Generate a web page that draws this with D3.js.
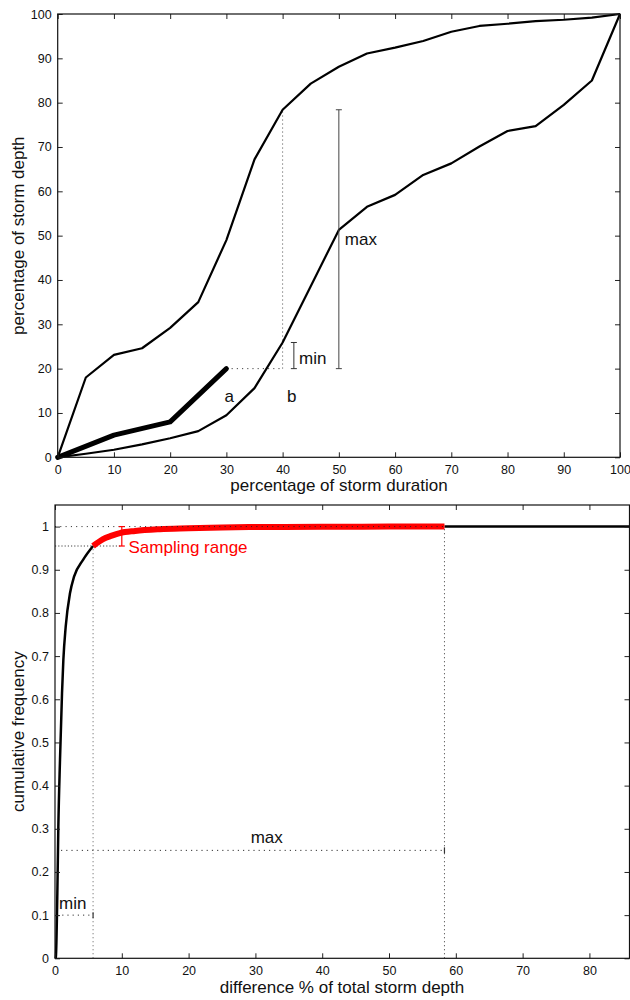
<!DOCTYPE html>
<html>
<head>
<meta charset="utf-8">
<script src="https://cdn.jsdelivr.net/npm/d3@7"></script>
<style>
  body { margin: 0; background: #fff; }
  svg { display: block; font-family: "Liberation Sans", Arial, Helvetica, sans-serif; }
</style>
</head>
<body>
<div id="chart"></div>
<script>
// top panel: mass curves (percentage of storm duration vs depth)
const durationPct = [0, 5, 10, 15, 20, 25, 30, 35, 40, 45, 50, 55, 60, 65, 70, 75, 80, 85, 90, 95, 100];
const upperDepth = [0, 18, 23.1, 24.6, 29.2, 35, 49, 67.2, 78.4, 84.3, 88.1, 91.1, 92.4, 93.9, 96, 97.3, 97.8, 98.4, 98.7, 99.2, 100];
const lowerDepth = [0, 0.8, 1.7, 2.9, 4.3, 5.9, 9.5, 15.6, 25.9, 38.6, 51.3, 56.5, 59.2, 63.7, 66.3, 70.1, 73.6, 74.7, 79.5, 85, 100];
const partialDur = [0, 10, 20, 30];
const partialDepth = [0, 5, 8, 20];
const topTicks = [0, 10, 20, 30, 40, 50, 60, 70, 80, 90, 100];

// bottom panel: cumulative frequency of the difference
const cdfDiff = [0.1, 0.15, 0.35, 0.5, 0.75, 1.05, 1.25, 1.6, 2.25, 2.85, 4.2, 5.7];
const cdfFreq = [0, 0.008, 0.15, 0.305, 0.46, 0.614, 0.691, 0.768, 0.846, 0.884, 0.923, 0.955];
const sampleDiff = [5.7, 6.5, 7.2, 8.5, 9.7, 12, 15.7, 20, 25, 30, 40, 50, 58.3];
const sampleFreq = [0.955, 0.964, 0.971, 0.979, 0.985, 0.99, 0.994, 0.996, 0.998, 0.999, 0.9995, 1, 1];
const tailDiff = [58.3, 86];
const tailFreq = [1, 1];
const bottomXTicks = [0, 10, 20, 30, 40, 50, 60, 70, 80];
const bottomYTicks = [0, 0.1, 0.2, 0.3, 0.4, 0.5, 0.6, 0.7, 0.8, 0.9, 1];

const width = 630, height = 1000;
const svg = d3.select('#chart').append('svg')
    .attr('width', width)
    .attr('height', height);

const dotH = '1.2,4';
const dotV = '1.2,2.8';

// draw a framed panel with inward ticks on all four sides
function drawFrame(x, y, xTicks, yTicks, yFmt) {
    const [x0, x1] = x.range();
    const [y0, y1] = y.range();
    const g = svg.append('g').attr('class', 'frame');

    const bottom = g.append('g')
        .attr('transform', `translate(0,${y0})`)
        .call(d3.axisBottom(x).tickValues(xTicks).tickSizeInner(-5).tickSizeOuter(0).tickPadding(8));
    const top = g.append('g')
        .attr('transform', `translate(0,${y1})`)
        .call(d3.axisTop(x).tickValues(xTicks).tickSizeInner(-5).tickSizeOuter(0).tickFormat(''));
    const left = g.append('g')
        .attr('transform', `translate(${x0},0)`)
        .call(d3.axisLeft(y).tickValues(yTicks).tickSizeInner(-5).tickSizeOuter(0).tickPadding(6).tickFormat(yFmt));
    const right = g.append('g')
        .attr('transform', `translate(${x1},0)`)
        .call(d3.axisRight(y).tickValues(yTicks).tickSizeInner(-5).tickSizeOuter(0).tickFormat(''));

    [bottom, top, left, right].forEach(a => {
        a.select('.domain').remove();
        a.selectAll('line').attr('stroke', '#222').attr('stroke-width', 1);
        a.selectAll('text').attr('font-size', '12.5px').attr('fill', '#111')
            .attr('font-family', '"Liberation Sans", Arial, sans-serif');
    });

    g.append('rect')
        .attr('x', x0).attr('y', y1)
        .attr('width', x1 - x0).attr('height', y0 - y1)
        .attr('fill', 'none')
        .attr('stroke', '#111')
        .attr('stroke-width', 1.2);
}

function seg(g, x1, y1, x2, y2, stroke, w, dash) {
    const l = g.append('line')
        .attr('x1', x1).attr('y1', y1)
        .attr('x2', x2).attr('y2', y2)
        .attr('stroke', stroke)
        .attr('stroke-width', w);
    if (dash) l.attr('stroke-dasharray', dash);
    return l;
}

// vertical error bar with small caps
function vBar(g, x, ya, yb, stroke, w) {
    seg(g, x, ya, x, yb, stroke, w);
    seg(g, x - 3, ya, x + 3, ya, stroke, w);
    seg(g, x - 3, yb, x + 3, yb, stroke, w);
}

function label(x, y, txt, opts = {}) {
    return svg.append('text')
        .attr('x', x).attr('y', y)
        .attr('font-size', opts.size || '17px')
        .attr('fill', opts.fill || '#111')
        .attr('text-anchor', opts.anchor || 'start')
        .text(txt);
}

// ---------- top panel ----------
const xT = d3.scaleLinear().domain([0, 100]).range([57.7, 620]);
const yT = d3.scaleLinear().domain([0, 100]).range([457.3, 14]);

const lineT = d3.line().x(d => xT(d[0])).y(d => yT(d[1]));
const gT = svg.append('g');

// dotted guides to the partial curve
seg(gT, xT(30), yT(20), xT(40), yT(20), '#444', 1, dotH);
seg(gT, xT(40), yT(20), xT(40), yT(78.4), '#666', 1, dotV);

gT.append('path')
    .attr('d', lineT(d3.zip(durationPct, upperDepth)))
    .attr('fill', 'none').attr('stroke', '#000').attr('stroke-width', 2.2)
    .attr('stroke-linejoin', 'round');
gT.append('path')
    .attr('d', lineT(d3.zip(durationPct, lowerDepth)))
    .attr('fill', 'none').attr('stroke', '#000').attr('stroke-width', 2.2)
    .attr('stroke-linejoin', 'round');
gT.append('path')
    .attr('d', lineT(d3.zip(partialDur, partialDepth)))
    .attr('fill', 'none').attr('stroke', '#000').attr('stroke-width', 5)
    .attr('stroke-linejoin', 'round').attr('stroke-linecap', 'round');

vBar(gT, xT(42), yT(20), yT(25.9), '#333', 1);
vBar(gT, xT(50), yT(20), yT(78.4), '#444', 1);

drawFrame(xT, yT, topTicks, topTicks, d3.format('d'));

label(xT(42.2) + 4, 364, 'min');
label(xT(50) + 6, 245, 'max');
label(xT(30.5), 402, 'a', { anchor: 'middle' });
label(xT(41.6), 402, 'b', { anchor: 'middle' });

label(339, 491, 'percentage of storm duration', { anchor: 'middle' });
svg.append('text')
    .attr('transform', `translate(24,${(457.3 + 14) / 2}) rotate(-90)`)
    .attr('text-anchor', 'middle')
    .attr('font-size', '17px')
    .attr('fill', '#111')
    .text('percentage of storm depth');

// ---------- bottom panel ----------
const xB = d3.scaleLinear().domain([0, 86]).range([55, 629.5]);
const yB = d3.scaleLinear().domain([0, 1.05]).range([958.3, 505]);
const lineB = d3.line().x(d => xB(d[0])).y(d => yB(d[1])).curve(d3.curveMonotoneX);
const gB = svg.append('g');

// guides
seg(gB, xB(5.7), yB(0), xB(5.7), yB(0.955), '#777', 1, dotV);
seg(gB, xB(58.3), yB(0), xB(58.3), yB(1), '#555', 1, dotV);
seg(gB, xB(0), yB(0.955), xB(10), yB(0.955), '#444', 1, '1.2,2');
seg(gB, xB(0.9), yB(0.25), xB(58.3), yB(0.25), '#333', 1, dotH);
seg(gB, xB(58.3), yB(0.25) - 3, xB(58.3), yB(0.25) + 3, '#333', 1.2);
seg(gB, xB(0.3), yB(0.1), xB(5.7), yB(0.1), '#333', 1, dotH);
seg(gB, xB(5.7), yB(0.1) - 3, xB(5.7), yB(0.1) + 3, '#333', 1.2);

gB.append('path')
    .attr('d', lineB(d3.zip(cdfDiff, cdfFreq)))
    .attr('fill', 'none').attr('stroke', '#000').attr('stroke-width', 2.5);
gB.append('path')
    .attr('d', lineB(d3.zip(tailDiff, tailFreq)))
    .attr('fill', 'none').attr('stroke', '#000').attr('stroke-width', 2.5);
gB.append('path')
    .attr('d', lineB(d3.zip(sampleDiff, sampleFreq)))
    .attr('fill', 'none').attr('stroke', '#ff0000').attr('stroke-width', 6);

seg(gB, xB(0), yB(1), xB(58.3), yB(1), '#222', 1, '1,4.3');

// sampling range bar
vBar(gB, xB(10), yB(0.955), yB(1), '#ff0000', 1.2);
label(xB(11), 553, 'Sampling range', { fill: '#ff0000' });

drawFrame(xB, yB, bottomXTicks, bottomYTicks, d => d === 0 || d === 1 ? d3.format('d')(d) : d3.format('.1f')(d));

label(xB(31.7), 843, 'max', { anchor: 'middle' });
label(xB(0.6), 909, 'min');

label(342, 993, 'difference % of total storm depth', { anchor: 'middle' });
svg.append('text')
    .attr('transform', `translate(24,${(958.3 + 505) / 2}) rotate(-90)`)
    .attr('text-anchor', 'middle')
    .attr('font-size', '17px')
    .attr('fill', '#111')
    .text('cumulative frequency');
</script>
</body>
</html>
